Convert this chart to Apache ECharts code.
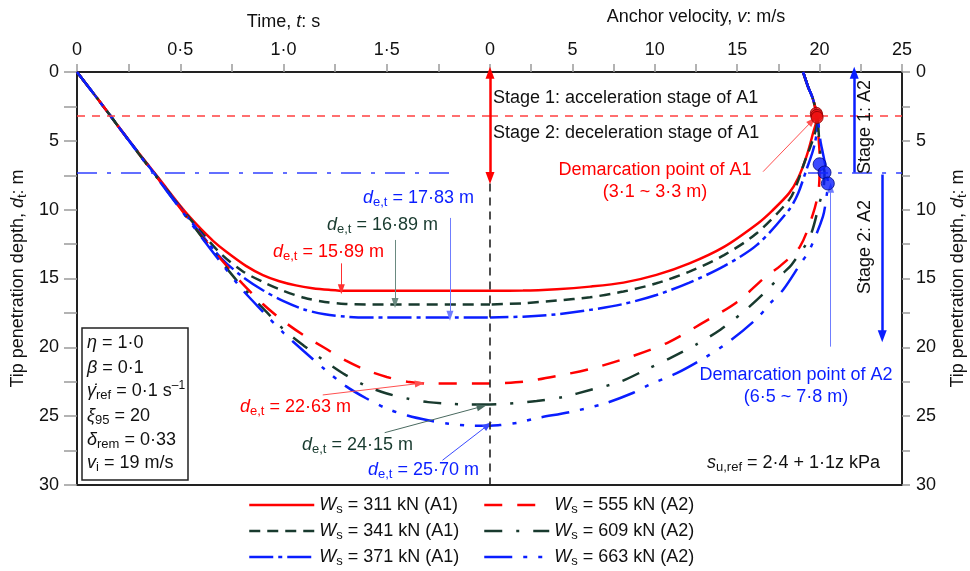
<!DOCTYPE html>
<html>
<head>
<meta charset="utf-8">
<title>Anchor penetration: depth vs time and velocity</title>
<script src="https://cdn.jsdelivr.net/npm/echarts@6/dist/echarts.min.js"></script>
<style>
  html, body { margin: 0; padding: 0; background: #fff; }
  #chart { width: 970px; height: 571px; }
</style>
</head>
<body>
<div id="chart"></div>
<script>
// ---- values ----
// left half: tip penetration depth (m) against time (s)
const t311 = [0, 0.1, 0.2, 0.3, 0.4, 0.5, 0.55, 0.6, 0.66, 0.72, 0.82, 0.9, 0.98, 1.06, 1.14, 1.22, 1.3, 2.0];
const d311 = [0, 1.95, 3.95, 5.9, 7.8, 9.72, 10.6, 11.4, 12.28, 13.02, 14.1, 14.75, 15.2, 15.5, 15.7, 15.82, 15.89, 15.89];
const t341 = [0, 0.1, 0.2, 0.3, 0.4, 0.5, 0.6, 0.7, 0.8, 0.9, 1.0, 1.1, 1.2, 1.3, 1.4, 2.0];
const d341 = [0, 1.95, 3.95, 5.92, 7.85, 9.8, 11.6, 13.25, 14.45, 15.25, 15.9, 16.4, 16.7, 16.85, 16.89, 16.89];
const t371 = [0, 0.1, 0.2, 0.3, 0.4, 0.5, 0.6, 0.7, 0.8, 0.9, 1.0, 1.1, 1.2, 1.3, 1.4, 2.0];
const d371 = [0, 1.95, 3.95, 5.93, 7.87, 9.85, 11.75, 13.55, 14.85, 15.85, 16.65, 17.25, 17.6, 17.77, 17.83, 17.83];
const t555 = [0, 0.1, 0.2, 0.3, 0.4, 0.5, 0.6, 0.7, 0.8, 0.9, 1.0, 1.1, 1.2, 1.3, 1.4, 1.5, 1.6, 1.7, 2.0];
const d555 = [0, 1.95, 3.95, 5.95, 7.9, 9.9, 11.85, 13.65, 15.35, 16.85, 18.1, 19.15, 20.05, 20.95, 21.65, 22.15, 22.5, 22.63, 22.63];
const t609 = [0, 0.1, 0.2, 0.3, 0.4, 0.5, 0.6, 0.7, 0.8, 0.9, 1.0, 1.1, 1.2, 1.3, 1.4, 1.5, 1.6, 1.7, 1.8, 1.9, 2.0];
const d609 = [0, 1.95, 3.95, 5.96, 7.92, 9.92, 11.9, 13.8, 15.6, 17.15, 18.7, 19.9, 21.0, 22.0, 22.8, 23.35, 23.72, 23.98, 24.1, 24.15, 24.15];
const t663 = [0, 0.1, 0.2, 0.3, 0.4, 0.5, 0.6, 0.7, 0.8, 0.9, 1.0, 1.1, 1.2, 1.3, 1.4, 1.5, 1.6, 1.7, 1.8, 1.9, 2.0];
const d663 = [0, 1.95, 3.95, 5.97, 7.94, 9.95, 11.95, 13.9, 15.8, 17.4, 18.95, 20.3, 21.6, 22.8, 23.7, 24.45, 24.95, 25.3, 25.55, 25.68, 25.7];

// right half: tip penetration depth (m) against anchor velocity (m/s)
const v311 = [19.0, 19.3, 19.55, 19.72, 19.8, 19.82, 19.6, 19.2, 18.7, 18.15, 17.1, 16.25, 14.2, 12.1, 10.1, 8.1, 6.07, 4.05, 2.0, 0];
const z311 = [0, 1.07, 1.8, 2.5, 3.0, 3.4, 4.45, 6.15, 7.7, 8.8, 10.1, 11.0, 12.7, 13.9, 14.74, 15.3, 15.59, 15.78, 15.88, 15.89];
const v341 = [19.0, 19.3, 19.55, 19.72, 19.82, 19.86, 19.75, 19.45, 19.1, 18.6, 18.15, 16.2, 14.2, 12.1, 10.1, 8.1, 6.07, 4.05, 2.0, 0];
const z341 = [0, 1.07, 1.8, 2.5, 3.15, 3.5, 4.3, 5.4, 6.5, 8.2, 9.3, 11.7, 13.3, 14.5, 15.35, 15.95, 16.36, 16.6, 16.8, 16.89];
const v371 = [19.0, 19.3, 19.55, 19.72, 19.85, 19.9, 19.82, 19.6, 19.2, 18.7, 18.15, 16.2, 14.2, 12.1, 10.1, 8.1, 6.07, 4.05, 2.0, 0];
const z371 = [0, 1.07, 1.8, 2.5, 3.3, 3.7, 4.5, 5.7, 7.1, 8.8, 10.0, 12.56, 14.1, 15.3, 16.2, 16.85, 17.28, 17.6, 17.77, 17.83];
const v555 = [19.0, 19.3, 19.55, 19.72, 19.85, 19.95, 20.0, 20.0, 19.95, 19.6, 18.8, 17.6, 16.7, 15.0, 12.8, 10.8, 8.5, 6.3, 4.0, 2.0, 0];
const z555 = [0, 1.07, 1.8, 2.5, 3.3, 5.0, 6.0, 6.7, 8.5, 10.3, 12.7, 14.1, 14.9, 16.7, 18.3, 19.65, 20.7, 21.5, 22.1, 22.5, 22.63];
const v609 = [19.0, 19.3, 19.55, 19.72, 19.87, 19.98, 20.1, 20.3, 20.25, 20.0, 19.4, 18.3, 17.8, 16.6, 15.4, 14.0, 12.5, 10.9, 9.5, 7.9, 6.07, 4.45, 2.83, 1.0, 0];
const z609 = [0, 1.07, 1.8, 2.5, 3.3, 5.0, 6.3, 7.3, 8.3, 9.5, 12.0, 14.0, 14.6, 16.1, 17.4, 18.7, 19.8, 20.8, 21.6, 22.5, 23.1, 23.6, 23.9, 24.1, 24.15];
const v663 = [19.0, 19.3, 19.55, 19.72, 19.88, 20.05, 20.2, 20.4, 20.5, 20.4, 20.2, 19.4, 18.8, 17.8, 17.0, 16.2, 14.6, 13.1, 11.3, 9.7, 8.7, 6.9, 4.85, 2.8, 1.8, 0.6, 0];
const z663 = [0, 1.07, 1.8, 2.5, 3.3, 5.0, 5.9, 7.1, 8.1, 9.2, 10.5, 12.9, 14.0, 15.8, 16.8, 17.9, 19.5, 20.7, 21.9, 22.7, 23.3, 24.1, 24.7, 25.15, 25.45, 25.65, 25.7];

// demarcation points [velocity, depth]
const demarcA1 = [[19.8, 3.0], [19.83, 3.15], [19.85, 3.3]];
const demarcA2 = [[20.0, 6.7], [20.3, 7.3], [20.5, 8.1]];
const stageDepthA1 = 3.2;
const stageDepthA2 = 7.3;

// tick labels
const timeLabelVals = [0, 0.5, 1, 1.5];
const timeLabelText = ['0', '0·5', '1·0', '1·5'];
const velLabelVals = [0, 5, 10, 15, 20, 25];
const depthLabelVals = [0, 5, 10, 15, 20, 25, 30];

const seriesNames = ['311 kN (A1)', '341 kN (A1)', '371 kN (A1)', '555 kN (A2)', '609 kN (A2)', '663 kN (A2)'];

// ---- styling ----
const FONT = 'Liberation Sans, Arial, Helvetica, sans-serif';
const RED = '#ff0000';
const DARK = '#183a2e';
const BLUE = '#0a1eff';
const INK = '#111';

const pairs = (xs, ys) => xs.map((x, i) => [x, ys[i]]);

const curves = [
    { t: t311, d: d311, v: v311, z: z311, color: RED, type: 'solid' },
    { t: t341, d: d341, v: v341, z: z341, color: DARK, type: [11, 7] },
    { t: t371, d: d371, v: v371, z: z371, color: BLUE, type: [24, 5, 4, 5] },
    { t: t555, d: d555, v: v555, z: z555, color: RED, type: [18, 15] },
    { t: t609, d: d609, v: v609, z: z609, color: DARK, type: [18, 14, 3, 14] },
    { t: t663, d: d663, v: v663, z: z663, color: BLUE, type: [28, 11, 4, 11, 4, 11] }
];

// rich styles for echarts components (color) and for graphic texts (fill)
const richC = (color) => ({
    i: { fontFamily: FONT, fontSize: 18, fontStyle: 'italic', color: color, lineHeight: 22 },
    sub: { fontFamily: FONT, fontSize: 13, color: color, lineHeight: 12, verticalAlign: 'bottom' }
});
const richG = {
    i: { fontFamily: FONT, fontSize: 18, fontStyle: 'italic', lineHeight: 22 },
    sub: { fontFamily: FONT, fontSize: 13, lineHeight: 12, verticalAlign: 'bottom' },
    sup: { fontFamily: FONT, fontSize: 12, lineHeight: 12, verticalAlign: 'top' }
};

const labelStyle = { fontFamily: FONT, fontSize: 18, color: INK };
const nameStyle = () => ({ fontFamily: FONT, fontSize: 18, color: INK, lineHeight: 22, rich: richC(INK) });

const pick = (vals, texts) => (v) => {
    const k = vals.indexOf(v);
    return k < 0 ? '' : (texts ? texts[k] : String(v));
};

const axisLine = { show: true, onZero: false, lineStyle: { color: '#222', width: 2 } };
const tickStyle = { color: '#9a9a9a', width: 1.5 };

const xAxes = [
    {
        gridIndex: 0, type: 'value', position: 'top', min: 0, max: 2, interval: 0.25,
        axisLine: axisLine,
        axisTick: { show: true, length: 8, lineStyle: tickStyle },
        axisLabel: Object.assign({ margin: 13, formatter: pick(timeLabelVals, timeLabelText) }, labelStyle),
        splitLine: { show: false },
        name: 'Time, {i|t}: s', nameLocation: 'middle', nameGap: 39, nameTextStyle: nameStyle()
    },
    {
        gridIndex: 1, type: 'value', position: 'top', min: 0, max: 25, interval: 2.5,
        axisLine: axisLine,
        axisTick: { show: true, length: 8, lineStyle: tickStyle },
        axisLabel: Object.assign({ margin: 13, formatter: pick(velLabelVals) }, labelStyle),
        splitLine: { show: false },
        name: 'Anchor velocity, {i|v}: m/s', nameLocation: 'middle', nameGap: 44, nameTextStyle: nameStyle()
    },
    {
        gridIndex: 0, type: 'value', position: 'bottom', min: 0, max: 2,
        axisLine: axisLine, axisTick: { show: false }, axisLabel: { show: false }, splitLine: { show: false }
    },
    {
        gridIndex: 1, type: 'value', position: 'bottom', min: 0, max: 25,
        axisLine: axisLine, axisTick: { show: false }, axisLabel: { show: false }, splitLine: { show: false }
    }
];

const depthName = 'Tip penetration depth, {i|d}{sub|t}: m';
const yAxes = [
    {
        gridIndex: 0, type: 'value', position: 'left', inverse: true, min: 0, max: 30, interval: 2.5,
        axisLine: axisLine,
        axisTick: { show: true, length: 13, lineStyle: tickStyle },
        axisLabel: Object.assign({ margin: 18, formatter: pick(depthLabelVals) }, labelStyle),
        splitLine: { show: false },
        name: depthName, nameLocation: 'middle', nameGap: 48, nameTextStyle: nameStyle()
    },
    {
        gridIndex: 1, type: 'value', position: 'right', inverse: true, min: 0, max: 30, interval: 2.5,
        axisLine: axisLine,
        axisTick: { show: true, length: 8, lineStyle: tickStyle },
        axisLabel: Object.assign({ margin: 14, formatter: pick(depthLabelVals) }, labelStyle),
        splitLine: { show: false },
        name: depthName, nameLocation: 'middle', nameGap: 45, nameTextStyle: nameStyle()
    }
];

const series = [];
curves.forEach((c, i) => {
    const ls = { color: c.color, width: 2.5, type: c.type };
    series.push({
        name: seriesNames[i], type: 'line', xAxisIndex: 0, yAxisIndex: 0,
        data: pairs(c.t, c.d), symbol: 'none', smooth: 0.3, lineStyle: ls,
        itemStyle: { color: c.color }, z: 3
    });
    series.push({
        name: seriesNames[i], type: 'line', xAxisIndex: 1, yAxisIndex: 1,
        data: pairs(c.v, c.z), symbol: 'none', smooth: 0.3, lineStyle: ls,
        itemStyle: { color: c.color }, z: 3
    });
});

// annotation segment helper (data coordinates)
const seg = (a, b, color, width, type, startArrow, endArrow) => [
    { coord: a, symbol: startArrow ? 'triangle' : 'none', symbolSize: [9, 12], lineStyle: { color: color, width: width, type: type } },
    { coord: b, symbol: endArrow ? 'triangle' : 'none', symbolSize: [9, 12], itemStyle: { color: color } }
];
const thinSeg = (a, b, color) => [
    { coord: a, symbol: 'none', lineStyle: { color: color, width: 1, type: 'solid' } },
    { coord: b, symbol: 'triangle', symbolSize: [7, 10], itemStyle: { color: color } }
];

const markBase = { silent: true, animation: false, label: { show: false }, emphasis: { disabled: true } };

series.push({
    name: 'annL', type: 'line', xAxisIndex: 0, yAxisIndex: 0, data: [], clip: false, z: 2,
    markLine: Object.assign({}, markBase, {
        data: [
            seg([0, stageDepthA1], [2, stageDepthA1], '#ff4040', 1.6, [8, 7], false, false),
            seg([0, stageDepthA2], [1.82, stageDepthA2], '#3040ff', 1.6, [20, 10, 4, 10], false, false),
            thinSeg([1.806, 10.6], [1.806, 17.7], '#6f7dff'),
            thinSeg([1.54, 12.2], [1.54, 16.78], '#6a8a80'),
            thinSeg([1.28, 13.9], [1.28, 15.78], '#ff3030'),
            thinSeg([1.19, 23.46], [1.66, 22.62], '#ff5050'),
            thinSeg([1.49, 26.2], [1.96, 24.3], '#4a6a60'),
            thinSeg([1.77, 28.2], [1.99, 25.65], '#3a4aff')
        ]
    })
});
series.push({
    name: 'annR', type: 'line', xAxisIndex: 1, yAxisIndex: 1, data: [], clip: false, z: 2,
    markLine: Object.assign({}, markBase, {
        data: [
            seg([0, stageDepthA1], [25, stageDepthA1], '#ff4040', 1.6, [8, 7], false, false),
            seg([19.3, stageDepthA2], [25, stageDepthA2], '#3040ff', 1.6, [20, 10, 4, 10], false, false),
            seg([0, 8.1], [0, 30], '#222', 1.6, [8, 6], false, false),
            seg([0, 0.05], [0, 7.7], RED, 2.5, 'solid', true, true),
            seg([22.1, stageDepthA2], [22.1, 0.05], BLUE, 2.5, 'solid', false, true),
            seg([23.8, 7.45], [23.8, 19.2], BLUE, 2.5, 'solid', false, true),
            thinSeg([16.57, 7.24], [19.55, 3.55], '#ff5050'),
            thinSeg([20.67, 19.95], [20.67, 8.4], '#6f7dff')
        ]
    })
});
series.push({
    name: 'demarcA1', type: 'scatter', xAxisIndex: 1, yAxisIndex: 1, data: demarcA1,
    symbolSize: 12, itemStyle: { color: '#ee1111', borderColor: '#8a0000', borderWidth: 1 }, z: 5, silent: true
});
series.push({
    name: 'demarcA2', type: 'scatter', xAxisIndex: 1, yAxisIndex: 1, data: demarcA2,
    symbolSize: 13, itemStyle: { color: '#0a1eff', borderColor: '#000a80', borderWidth: 1 }, z: 5, silent: true
});

const legendBase = {
    orient: 'vertical', top: 494, padding: 0, itemWidth: 65, itemHeight: 14, itemGap: 4,
    selectedMode: false,
    // hide the round symbol that line series put in the middle of the legend line
    itemStyle: { color: 'rgba(0,0,0,0)', borderColor: 'rgba(0,0,0,0)', borderWidth: 0 },
    lineStyle: { width: 2.5 },
    formatter: (name) => '{i|W}{sub|s} = ' + name,
    textStyle: { fontFamily: FONT, fontSize: 18, color: INK, lineHeight: 22, rich: richC(INK) }
};

// text annotations
const txt = (x, y, text, fill, align, extra) => Object.assign({
    type: 'text', x: x, y: y, z: 20, silent: true,
    style: {
        text: text, fill: fill, fontFamily: FONT, fontSize: 18, lineHeight: 22,
        align: align || 'left', verticalAlign: 'middle', rich: richG
    }
}, extra || {});

const graphics = [
    txt(493, 98, 'Stage 1: acceleration stage of A1', INK),
    txt(493, 133, 'Stage 2: deceleration stage of A1', INK),
    txt(655, 170, 'Demarcation point of A1', RED, 'center'),
    txt(655, 192, '(3·1 ~ 3·3 m)', RED, 'center'),
    txt(796, 375, 'Demarcation point of A2', BLUE, 'center'),
    txt(796, 397, '(6·5 ~ 7·8 m)', BLUE, 'center'),
    txt(865, 127, 'Stage 1: A2', INK, 'center', { rotation: Math.PI / 2 }),
    txt(865, 247, 'Stage 2: A2', INK, 'center', { rotation: Math.PI / 2 }),
    txt(707, 463, '{i|s}{sub|u,ref} = 2·4 + 1·1z kPa', INK),
    txt(363, 198, '{i|d}{sub|e,t} = 17·83 m', BLUE),
    txt(327, 225, '{i|d}{sub|e,t} = 16·89 m', DARK),
    txt(273, 252, '{i|d}{sub|e,t} = 15·89 m', RED),
    txt(240, 407, '{i|d}{sub|e,t} = 22·63 m', RED),
    txt(302, 445, '{i|d}{sub|e,t} = 24·15 m', DARK),
    txt(368, 470, '{i|d}{sub|e,t} = 25·70 m', BLUE),
    {
        type: 'rect', z: 15, silent: true,
        shape: { x: 82, y: 328, width: 106, height: 152 },
        style: { fill: '#fff', stroke: '#222', lineWidth: 1.5 }
    },
    txt(87, 343, '{i|η} = 1·0', INK),
    txt(87, 368, '{i|β} = 0·1', INK),
    txt(87, 391, '{i|γ̇}{sub|ref} = 0·1 s{sup|–1}', INK),
    txt(87, 416, '{i|ξ}{sub|95} = 20', INK),
    txt(87, 440, '{i|δ}{sub|rem} = 0·33', INK),
    txt(87, 463, '{i|v}{sub|i} = 19 m/s', INK)
];

const chart = echarts.init(document.getElementById('chart'));
chart.setOption({
    animation: false,
    backgroundColor: '#fff',
    textStyle: { fontFamily: FONT },
    grid: [
        { left: 77, top: 72, width: 413, height: 413 },
        { left: 490, top: 72, width: 412, height: 413 }
    ],
    xAxis: xAxes,
    yAxis: yAxes,
    legend: [
        Object.assign({ left: 248, data: seriesNames.slice(0, 3) }, legendBase),
        Object.assign({ left: 483, data: seriesNames.slice(3, 6) }, legendBase)
    ],
    series: series,
    graphic: graphics
});
</script>
</body>
</html>
